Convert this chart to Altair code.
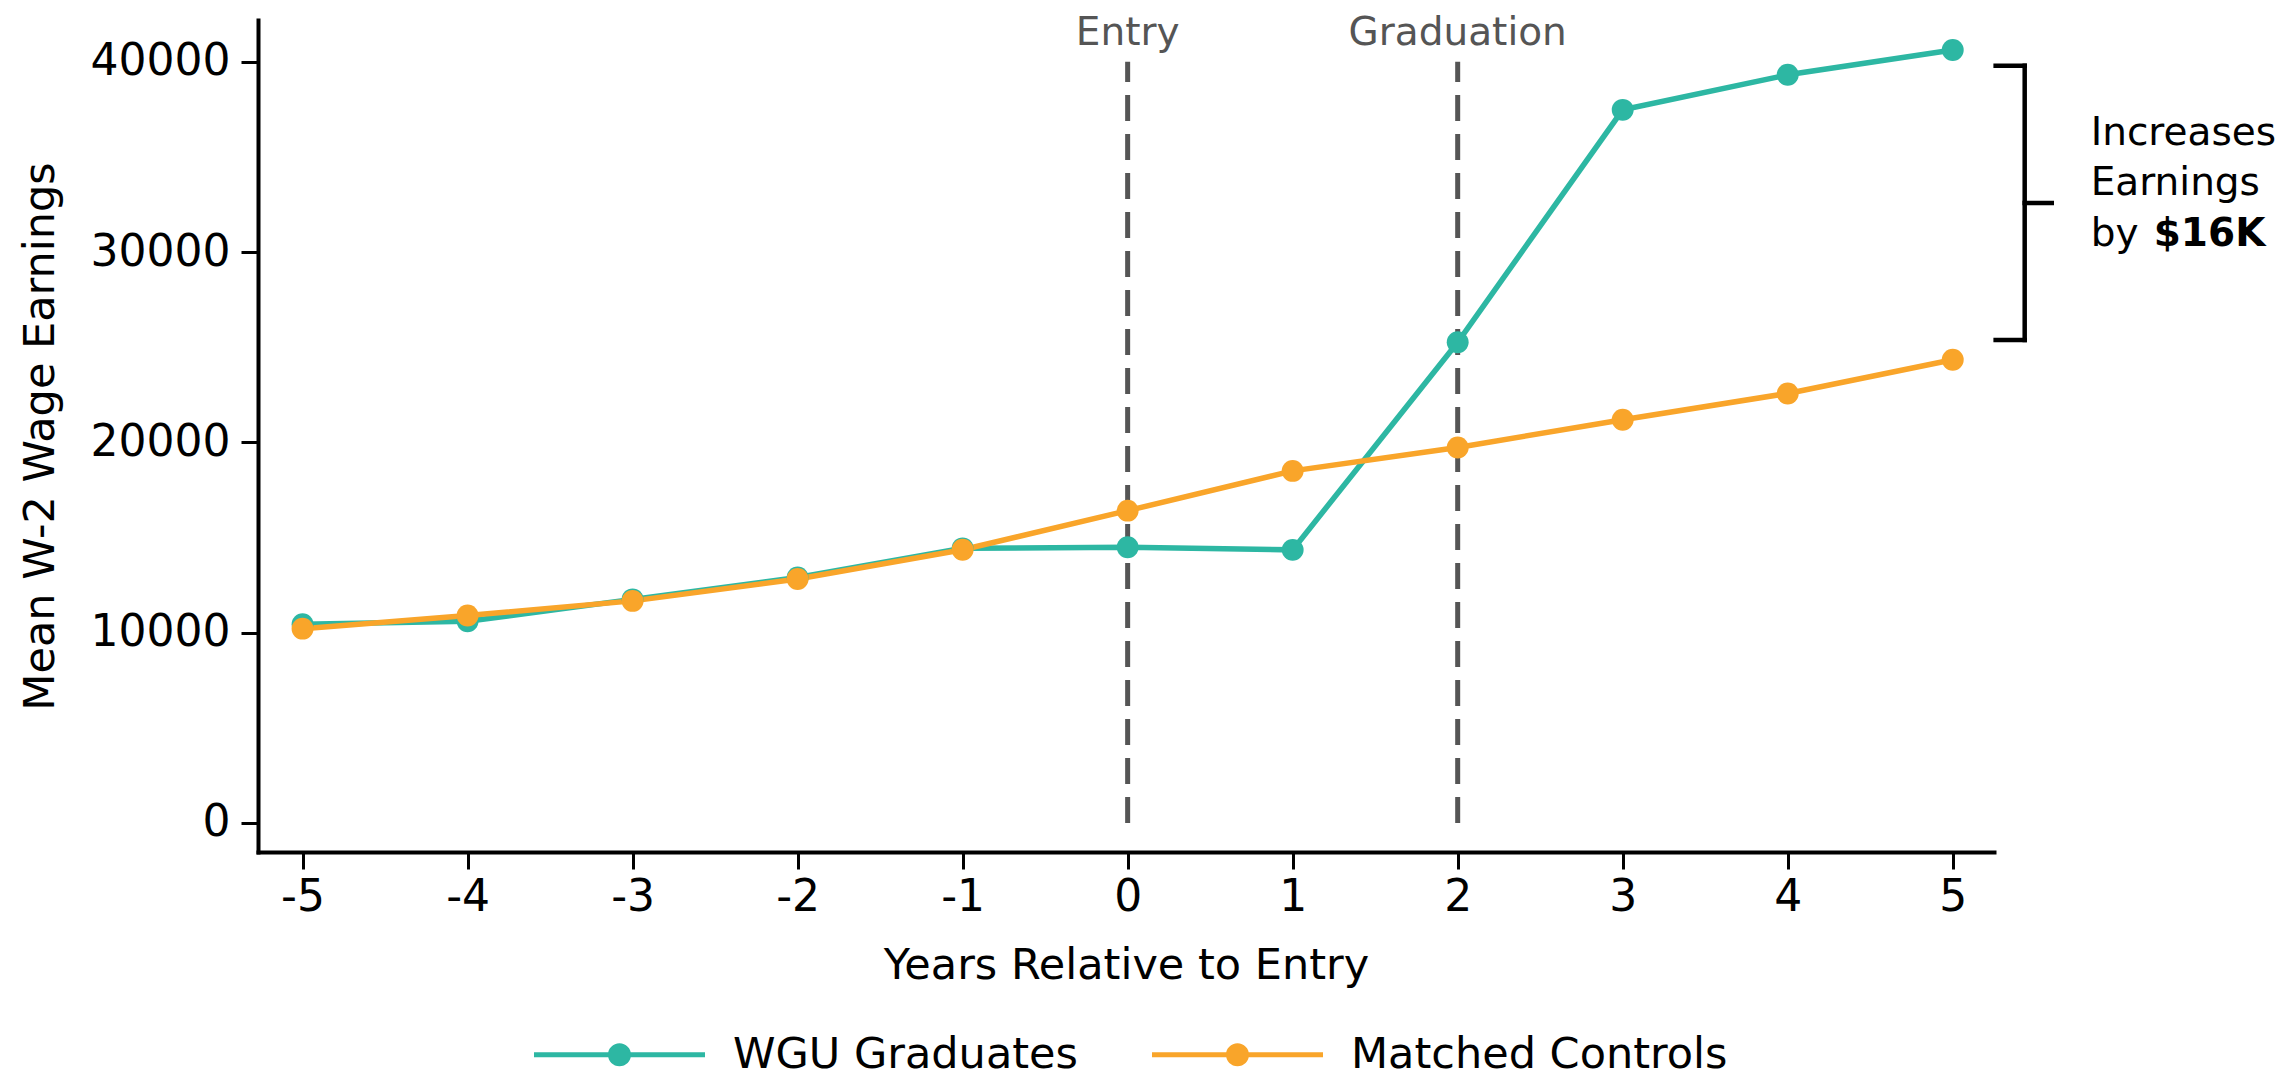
import altair as alt
import pandas as pd

# ---- data ----
years = [-5, -4, -3, -2, -1, 0, 1, 2, 3, 4, 5]
wgu_graduates = [10440, 10600, 11750, 12900, 14430, 14490, 14350, 25260, 37470, 39310, 40610]
matched_controls = [10210, 10900, 11670, 12820, 14360, 16410, 18500, 19730, 21190, 22570, 24340]
series_names = ["WGU Graduates", "Matched Controls"]
series_colors = ["#2db7a3", "#f9a52a"]

y_ticks = [0, 10000, 20000, 30000, 40000]

event_years = [0, 2]
event_labels = ["Entry", "Graduation"]
event_top = [40000, 40000]
event_label_y = [40870, 40870]

# bracket (data units): vertical spine, top arm, bottom arm, middle arm
bracket_x = [5.436, 5.26, 5.26, 5.436]
bracket_x2 = [5.436, 5.436, 5.436, 5.60]
bracket_y = [25380, 39780, 25380, 32580]
bracket_y2 = [39780, 39780, 25380, 32580]

note_lines = ["Increases", "Earnings", "by"]
note_x = [5.836, 5.836, 5.836]
note_y = [35630, 33000, 30320]
note_bold = ["$16K"]
note_bold_x = [6.218]
note_bold_y = [30320]

# ---- tables ----
df = pd.DataFrame({
    "year": years * 2,
    "earn": wgu_graduates + matched_controls,
    "series": [series_names[0]] * len(years) + [series_names[1]] * len(years),
})
ev_df = pd.DataFrame({"year": event_years, "earn": [0] * len(event_years), "earn2": event_top})
ev_lbl_df = pd.DataFrame({"year": event_years, "earn": event_label_y, "label": event_labels})
br_df = pd.DataFrame({"year": bracket_x, "year2": bracket_x2, "earn": bracket_y, "earn2": bracket_y2})
note_df = pd.DataFrame({"year": note_x, "earn": note_y, "label": note_lines})
bold_df = pd.DataFrame({"year": note_bold_x, "earn": note_bold_y, "label": note_bold})

FONT = "DejaVu Sans"

x_scale = alt.Scale(domain=[-5.27, 5.25], nice=False, zero=False)
y_scale = alt.Scale(domain=[-1524, 42190], nice=False, zero=False)
color_scale = alt.Scale(domain=series_names, range=series_colors)

x_main = alt.X("year:Q", scale=x_scale,
               axis=alt.Axis(values=years, title="Years Relative to Entry",
                             labelExpr="datum.value + ''"))
y_main = alt.Y("earn:Q", scale=y_scale,
               axis=alt.Axis(values=y_ticks, title="Mean W-2 Wage Earnings",
                             labelExpr="datum.value + ''"))

legend_path = ("M-1,-0.03L1,-0.03L1,0.03L-1,0.03Z "
               "M0.135,0A0.135,0.135 0 1,1 -0.135,0A0.135,0.135 0 1,1 0.135,0Z")

legend = alt.Legend(
    orient="none", legendX=276, legendY=949, direction="horizontal",
    title=None, symbolType=legend_path, symbolSize=29241,
    symbolStrokeWidth=0, symbolOpacity=1,
    labelFont=FONT, labelFontSize=43, labelColor="black",
    labelLimit=800, labelOffset=28, columnPadding=74,
)
color_enc = alt.Color("series:N", scale=color_scale, legend=legend)

event_rules = alt.Chart(ev_df).mark_rule(
    color="#555555", strokeWidth=5, strokeDash=[26, 13]
).encode(x=x_main, y=y_main, y2="earn2:Q")

event_text = alt.Chart(ev_lbl_df).mark_text(
    font=FONT, fontSize=39, color="#555555", align="center", baseline="alphabetic"
).encode(x="year:Q", y="earn:Q", text="label:N")

lines = alt.Chart(df).mark_line(strokeWidth=5.5).encode(
    x="year:Q", y="earn:Q", color=color_enc,
)

points = alt.Chart(df).mark_point(filled=True, size=480, opacity=1).encode(
    x="year:Q", y="earn:Q", color=color_enc,
)

bracket = alt.Chart(br_df).mark_rule(color="black", strokeWidth=4.5, strokeCap="square").encode(
    x="year:Q", x2="year2:Q", y="earn:Q", y2="earn2:Q"
)

notes = alt.Chart(note_df).mark_text(
    font=FONT, fontSize=39, color="black", align="left", baseline="alphabetic"
).encode(x="year:Q", y="earn:Q", text="label:N")

notes_bold = alt.Chart(bold_df).mark_text(
    font=FONT, fontSize=39, fontWeight="bold", color="black", align="left", baseline="alphabetic"
).encode(x="year:Q", y="earn:Q", text="label:N")

chart = alt.layer(
    event_rules, event_text, lines, points, bracket, notes, notes_bold
).properties(
    width=1736, height=832,
    autosize=alt.AutoSizeParams(type="none"),
    padding={"left": 250, "top": 12, "right": 294, "bottom": 240},
).configure(font=FONT).configure_view(stroke=None).configure_axis(
    grid=False, domainColor="black", domainWidth=4, domainCap="square",
    tickColor="black", tickWidth=3, tickSize=17,
    labelColor="black", titleColor="black",
    labelFont=FONT, titleFont=FONT, labelFontSize=44, titleFontSize=43,
    titleFontWeight="normal",
).configure_axisX(labelPadding=6, titlePadding=25).configure_axisY(labelPadding=11, titlePadding=28)

chart.save("out.html", embed_options={"renderer": "svg", "actions": False})
